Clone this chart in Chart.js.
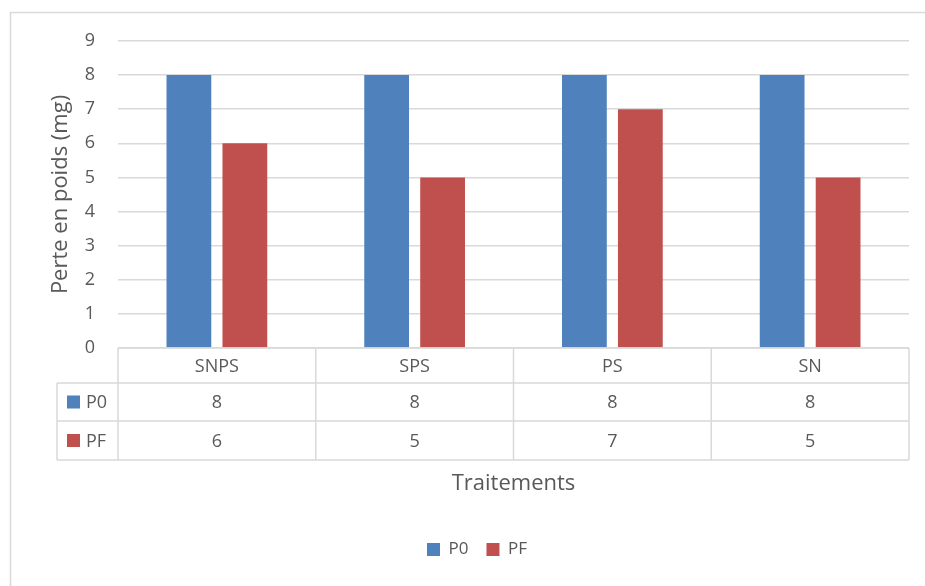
<!DOCTYPE html>
<html>
<head>
<meta charset="utf-8">
<script src="https://cdn.jsdelivr.net/npm/chart.js@4"></script>
<style>
  html, body { margin: 0; padding: 0; background: #fff; }
  canvas { display: block; }
</style>
</head>
<body>
<canvas id="c" width="925" height="586"></canvas>
<script>
// Treatments and the two weight-loss series (mg)
const categories = ['SNPS', 'SPS', 'PS', 'SN'];
const p0Values = [8, 8, 8, 8];
const pfValues = [6, 5, 7, 5];
const seriesNames = ['P0', 'PF'];
const yTicks = [0, 1, 2, 3, 4, 5, 6, 7, 8, 9];

const BLUE = '#4f81bd';
const RED = '#c0504d';
const TEXT = '#595959';
const LINE = '#d9d9d9';
const FONT = '"Open Sans", "Liberation Sans", sans-serif';

// Frame around the whole chart
const framePlugin = {
  id: 'frame',
  beforeDraw(chart) {
    const ctx = chart.ctx;
    ctx.save();
    ctx.fillStyle = '#fff';
    ctx.fillRect(0, 0, chart.width, chart.height);
    ctx.strokeStyle = LINE;
    ctx.lineWidth = 1.5;
    ctx.strokeRect(10.5, 12.5, chart.width + 20, chart.height + 20);
    ctx.restore();
  }
};

// Data table under the plot: category row, then one row per series
const dataTablePlugin = {
  id: 'dataTable',
  afterDraw(chart) {
    const ctx = chart.ctx;
    const area = chart.chartArea;
    const xs = chart.scales.x;
    const left = area.left, right = area.right;
    const top = area.bottom;
    const rowH = [35, 38, 39];
    const y1 = top + rowH[0];
    const y2 = y1 + rowH[1];
    const y3 = y2 + rowH[2];
    const keyLeft = 57;
    const n = categories.length;
    const step = (right - left) / n;

    ctx.save();
    ctx.strokeStyle = LINE;
    ctx.lineWidth = 1.5;
    ctx.beginPath();
    // horizontal rules
    ctx.moveTo(left, top); ctx.lineTo(right, top);
    [y1, y2, y3].forEach(y => { ctx.moveTo(keyLeft, y); ctx.lineTo(right, y); });
    // vertical rules
    for (let i = 0; i <= n; i++) {
      const x = left + i * step;
      ctx.moveTo(x, top); ctx.lineTo(x, y3);
    }
    ctx.moveTo(keyLeft, y1); ctx.lineTo(keyLeft, y3);
    ctx.stroke();

    ctx.fillStyle = TEXT;
    ctx.font = '18px ' + FONT;
    ctx.textAlign = 'center';
    ctx.textBaseline = 'middle';
    const rows = [p0Values, pfValues];
    const colors = [BLUE, RED];
    categories.forEach((cat, i) => {
      const cx = xs.getPixelForTick(i);
      ctx.fillText(cat, cx, (top + y1) / 2 + 1);
      ctx.fillText(String(rows[0][i]), cx, (y1 + y2) / 2 + 1);
      ctx.fillText(String(rows[1][i]), cx, (y2 + y3) / 2 + 1);
    });
    // series keys
    const rowMid = [(y1 + y2) / 2, (y2 + y3) / 2];
    ctx.textAlign = 'left';
    seriesNames.forEach((name, k) => {
      ctx.fillStyle = colors[k];
      ctx.fillRect(67, rowMid[k] - 6.5, 13, 13);
      ctx.fillStyle = TEXT;
      ctx.fillText(name, 86, rowMid[k] + 1);
    });

    // x-axis title
    ctx.textAlign = 'center';
    ctx.font = '22px ' + FONT;
    ctx.fillText('Traitements', (left + right) / 2, y3 + 24);
    ctx.restore();
  }
};

new Chart(document.getElementById('c'), {
  type: 'bar',
  data: {
    labels: categories,
    datasets: [
      { label: seriesNames[0], data: p0Values, backgroundColor: BLUE, borderWidth: 0 },
      { label: seriesNames[1], data: pfValues, backgroundColor: RED, borderWidth: 0 }
    ]
  },
  options: {
    responsive: false,
    animation: false,
    devicePixelRatio: 1,
    categoryPercentage: 0.566,
    barPercentage: 0.80,
    layout: { padding: { left: 45, right: 16, top: 41, bottom: 18 } },
    plugins: {
      tooltip: { enabled: false },
      legend: {
        position: 'bottom',
        labels: {
          boxWidth: 13,
          boxHeight: 13,
          padding: 18,
          color: TEXT,
          font: { family: FONT, size: 17 }
        }
      }
    },
    scales: {
      x: {
        grid: { display: false },
        border: { display: false },
        ticks: { display: false },
        afterFit(scale) { scale.height = 175; }
      },
      y: {
        min: 0,
        max: 9,
        afterBuildTicks(scale) { scale.ticks = yTicks.map(v => ({ value: v })); },
        afterFit(scale) { scale.width = 73; },
        grid: { color: LINE, lineWidth: 1.5, drawTicks: false },
        border: { display: false },
        ticks: {
          padding: 23,
          color: TEXT,
          font: { family: FONT, size: 18 }
        },
        title: {
          display: true,
          text: 'Perte en poids (mg)',
          color: TEXT,
          font: { family: FONT, size: 22 },
          padding: { top: 3, bottom: 0 }
        }
      }
    }
  },
  plugins: [framePlugin, dataTablePlugin]
});
</script>
</body>
</html>
